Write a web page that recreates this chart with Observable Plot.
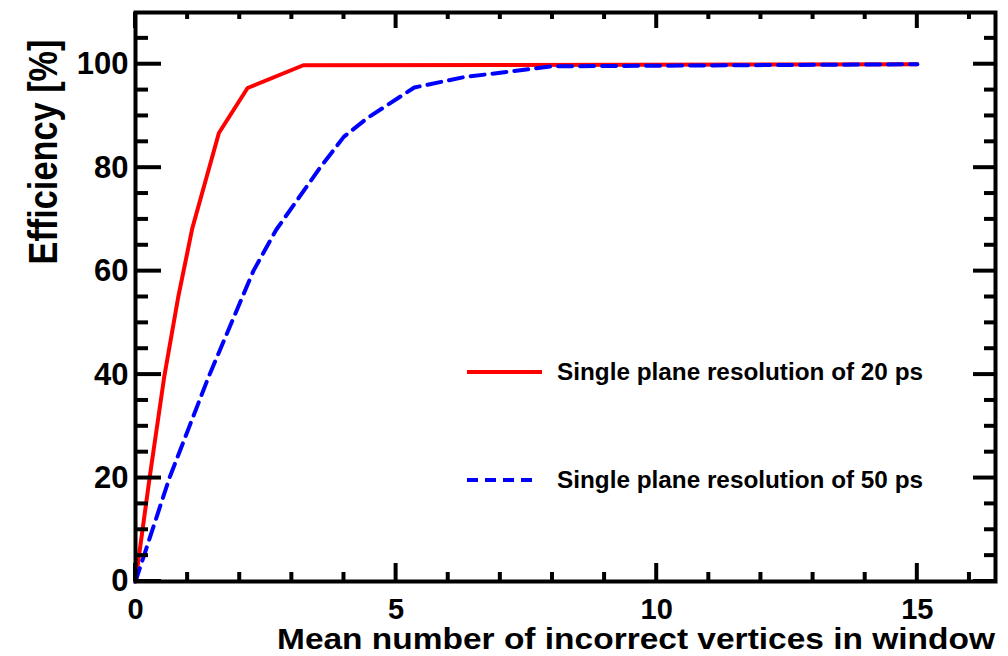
<!DOCTYPE html>
<html><head><meta charset="utf-8">
<script src="https://cdn.jsdelivr.net/npm/d3@7"></script>
<script src="https://cdn.jsdelivr.net/npm/@observablehq/plot@0.6"></script>
<style>body{margin:0;background:#fff} svg{display:block}</style>
</head><body><div id="chart"></div>
<script>
// Data
const res20X = [0, 0.27, 0.55, 0.82, 1.09, 1.6, 2.15, 3.22, 15];
const res20Y = [0, 20, 39.5, 55, 68.3, 86.7, 95.4, 99.8, 100];
const res50X = [0, 0.65, 1.4, 2.26, 2.7, 3.54, 4.0, 4.45, 5.35, 6.3, 8.0, 15];
const res50Y = [0, 20, 39.5, 60, 68, 80, 86, 89.6, 95.5, 97.5, 99.6, 100];
const seriesNames = ["Single plane resolution of 20 ps", "Single plane resolution of 50 ps"];
const seriesColors = ["#ff0000", "#0000ff"];
const xMajorTicks = [0, 5, 10, 15];
const xMinorTicks = [1, 2, 3, 4, 6, 7, 8, 9, 11, 12, 13, 14, 16];
const yMajorTicks = [0, 20, 40, 60, 80, 100];
const yMinorTicks = [5, 10, 15, 25, 30, 35, 45, 50, 55, 65, 70, 75, 85, 90, 95, 105];
const xTitle = "Mean number of incorrect vertices in window";
const yTitle = "Efficiency [%]";

const W = 1008, H = 656;
const mL = 135, mR = 13, mT = 12, mB = 75;
const xDom = [0, 16.5], yDom = [0, 110];
const FONT = "'Liberation Sans', Arial, Helvetica, sans-serif";
const dash = "14,8";

const d20 = res20X.map((x, i) => ({x, y: res20Y[i]}));
const d50 = res50X.map((x, i) => ({x, y: res50Y[i]}));

const svg = Plot.plot({
  width: W, height: H,
  marginLeft: mL, marginRight: mR, marginTop: mT, marginBottom: mB,
  style: {fontFamily: FONT, fontWeight: "bold", background: "white", color: "black"},
  x: {domain: xDom},
  y: {domain: yDom},
  marks: [
    Plot.line(d20, {x: "x", y: "y", stroke: seriesColors[0], strokeWidth: 4}),
    Plot.line(d50, {x: "x", y: "y", stroke: seriesColors[1], strokeWidth: 4, strokeDasharray: dash}),
    Plot.frame({stroke: "black", strokeWidth: 4}),
    Plot.axisX({ticks: xMajorTicks, tickSize: 0, tickPadding: 17, fontSize: 29, fontWeight: "bold", label: null}),
    Plot.axisY({ticks: yMajorTicks, tickSize: 0, tickPadding: 7, fontSize: 31, fontWeight: "bold", label: null})
  ]
});

const s = d3.select(svg);
const sx = svg.scale("x"), sy = svg.scale("y");
const x0 = sx.apply(xDom[0]), x1 = sx.apply(xDom[1]);
const y0 = sy.apply(yDom[0]), y1 = sy.apply(yDom[1]);

// inward ticks on all four sides, placed through Plot's own scales
const g = s.append("g").attr("stroke", "black").attr("stroke-width", 4);
const vt = (vals, yA, len) => vals.forEach(v => g.append("line")
  .attr("x1", sx.apply(v)).attr("x2", sx.apply(v)).attr("y1", yA).attr("y2", yA + len));
const ht = (vals, xA, len) => vals.forEach(v => g.append("line")
  .attr("y1", sy.apply(v)).attr("y2", sy.apply(v)).attr("x1", xA).attr("x2", xA + len));
vt(xMajorTicks, y0, -18); vt(xMinorTicks, y0, -9);
vt(xMajorTicks, y1, 16);  vt(xMinorTicks, y1, 7);
ht(yMajorTicks, x0, 26);  ht(yMinorTicks, x0, 13);
ht(yMajorTicks, x1, -22); ht(yMinorTicks, x1, -11);

// axis titles
s.append("text")
  .attr("x", 995).attr("y", 649)
  .attr("text-anchor", "end")
  .attr("font-family", FONT).attr("font-weight", "bold").attr("font-size", 29)
  .attr("textLength", 718).attr("lengthAdjust", "spacingAndGlyphs")
  .attr("fill", "black")
  .text(xTitle);
s.append("text")
  .attr("transform", "translate(57,152) rotate(-90)")
  .attr("text-anchor", "middle")
  .attr("font-family", FONT).attr("font-weight", "bold").attr("font-size", 40)
  .attr("textLength", 225).attr("lengthAdjust", "spacingAndGlyphs")
  .attr("fill", "black")
  .text(yTitle);

// legend
const legY = [372, 480];
seriesNames.forEach((name, i) => {
  const ln = s.append("line")
    .attr("x1", 467).attr("x2", i === 1 ? 536 : 542).attr("y1", legY[i]).attr("y2", legY[i])
    .attr("stroke", seriesColors[i]).attr("stroke-width", 4);
  if (i === 1) ln.attr("stroke-dasharray", "11,7");
  s.append("text")
    .attr("x", 557).attr("y", legY[i] + 8)
    .attr("text-anchor", "start")
    .attr("font-family", FONT).attr("font-weight", "bold").attr("font-size", 23)
    .attr("textLength", 366).attr("lengthAdjust", "spacingAndGlyphs")
    .attr("fill", "black")
    .text(name);
});

document.getElementById("chart").appendChild(svg);
</script>
</body></html>
